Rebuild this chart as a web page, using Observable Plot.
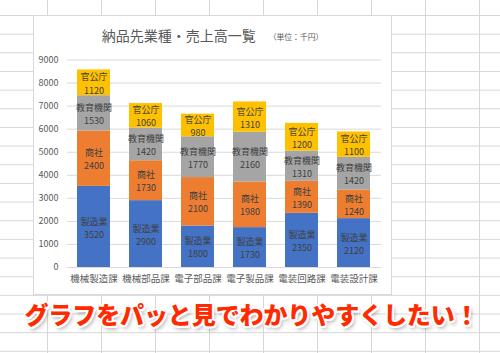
<!DOCTYPE html>
<html>
<head>
<meta charset="utf-8">
<script src="https://cdn.jsdelivr.net/npm/d3@7"></script>
<script src="https://cdn.jsdelivr.net/npm/@observablehq/plot@0.6"></script>
<style>
  html, body { margin: 0; padding: 0; }
  body { width: 500px; height: 353px; overflow: hidden; position: relative; background: #fff;
    background-image: linear-gradient(to right, #d6d6d6 1px, transparent 1px),
                      linear-gradient(to bottom, #d6d6d6 1px, transparent 1px);
    background-size: 54px 18.67px;
    background-position: 47px 15px;
    font-family: "Noto Sans CJK JP", "Noto Sans", sans-serif; }
  #box { position: absolute; left: 33px; top: 15px; width: 357px; height: 278px; background: #fff; border: 1px solid #d9d9d9; }
  #chart { position: absolute; left: 33px; top: 16px; }
  #title { position: absolute; left: 33px; top: 25px; width: 359px; text-align: center; color: #595959; font-size: 14px; line-height: 20px; white-space: nowrap; }
  #title span { font-size: 7.8px; margin-left: 13px; vertical-align: 1px; }
  #caption { position: absolute; left: 0; top: 302px; width: 503px; text-align: center; font-size: 24px; line-height: 24px;
    font-weight: 900; color: #ff2a00; white-space: nowrap; letter-spacing: -0.1px;
    text-shadow: -2px 0 #fff, 2px 0 #fff, 0 -2px #fff, 0 2px #fff, -1.5px -1.5px #fff, 1.5px 1.5px #fff, -1.5px 1.5px #fff, 1.5px -1.5px #fff, 2px 3px 4px rgba(0,0,0,0.4); }
</style>
</head>
<body>
<div id="box"></div>
<div id="title">納品先業種・売上高一覧<span>（単位：千円）</span></div>
<div id="chart"></div>
<div id="caption">グラフをパッと見でわかりやすくしたい！</div>
<script>
const categories = ["機械製造課", "機械部品課", "電子部品課", "電子製品課", "電装回路課", "電装設計課"];
const seriesNames = ["製造業", "商社", "教育機関", "官公庁"];
const seriesColors = ["#4472C4", "#ED7D31", "#A5A5A5", "#FFC000"];
const manufacturing = [3520, 2900, 1800, 1730, 2350, 2120];
const tradingCo = [2400, 1730, 2100, 1980, 1390, 1240];
const education = [1530, 1420, 1770, 2160, 1310, 1420];
const government = [1120, 1060, 980, 1310, 1200, 1100];
const yTicks = [0, 1000, 2000, 3000, 4000, 5000, 6000, 7000, 8000, 9000];

const seriesValues = [manufacturing, tradingCo, education, government];
const table = [];
seriesNames.forEach((s, si) => {
  categories.forEach((c, ci) => table.push({category: c, series: s, value: seriesValues[si][ci]}));
});

const chart = Plot.plot({
  width: 359,
  height: 279,
  marginLeft: 34,
  marginRight: 11,
  marginTop: 43.5,
  marginBottom: 28,
  style: {background: "transparent", fontFamily: "'Noto Sans CJK JP', sans-serif", color: "#595959"},
  x: {domain: categories, paddingInner: 0.36, paddingOuter: 0.18, label: null},
  y: {domain: [0, 9000], label: null},
  color: {domain: seriesNames, range: seriesColors},
  marks: [
    Plot.ruleY(yTicks, {stroke: "#d9d9d9", strokeWidth: 1}),
    Plot.barY(table, {x: "category", y: "value", fill: "series"}),
    Plot.text(table, Plot.stackY({x: "category", y: "value", z: "series",
      text: d => `${d.series}\n${d.value}`, fill: "#404040", fontSize: 9, lineHeight: 1.45})),
    Plot.axisY({ticks: yTicks, tickFormat: d => String(d), tickSize: 0, tickPadding: 9, fontSize: 9, fill: "#595959", label: null}),
    Plot.axisX({tickSize: 0, tickPadding: 8, fontSize: 9.5, fill: "#595959", label: null})
  ]
});
document.getElementById("chart").append(chart);
</script>
</body>
</html>
